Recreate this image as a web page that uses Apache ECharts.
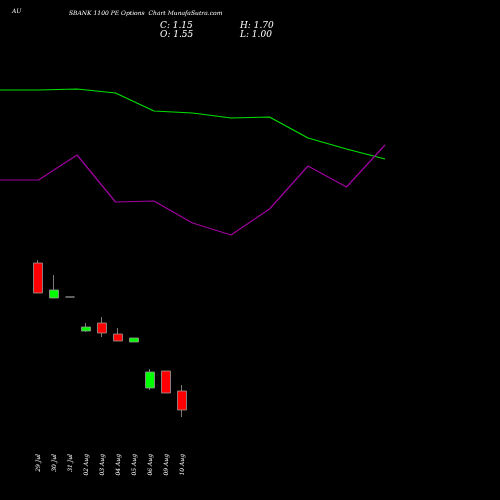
<!DOCTYPE html><html><head><meta charset="utf-8"><script src="https://cdn.jsdelivr.net/npm/echarts@6/dist/echarts.min.js"></script>
<style>body{margin:0;background:#000}#c{width:500px;height:500px}</style></head><body><div id="c"></div><script>
const categories=["29 Jul","30 Jul","31 Jul","02 Aug","03 Aug","04 Aug","05 Aug","06 Aug","09 Aug","10 Aug"];
const opens=[1.87,1.52,1.53,1.19,1.27,1.16,1.08,0.62,0.79,0.59];
const closes=[1.57,1.60,1.53,1.23,1.17,1.09,1.12,0.78,0.57,0.40];
const lows=[1.57,1.52,1.53,1.18,1.13,1.09,1.08,0.60,0.57,0.33];
const highs=[1.90,1.75,1.53,1.27,1.33,1.22,1.12,0.81,0.79,0.65];
const greenLine=[3.60,3.60,3.61,3.57,3.39,3.37,3.32,3.33,3.12,3.01,2.91];
const purpleLine=[2.70,2.70,2.95,2.48,2.49,2.27,2.15,2.41,2.84,2.63,3.05];
const lineX=[0,1,2,3,4,5,6,7,8,9,10];
const chart=echarts.init(document.getElementById('c'));
const candleData=categories.map((c,i)=>[opens[i],closes[i],lows[i],highs[i]]);
const font='"DejaVu Serif", serif';
chart.setOption({backgroundColor:'#000',animation:false,
graphic:[
{type:'text',left:12,top:8,style:{text:'AU',fill:'#fff',font:'italic 6px '+font}},
{type:'text',left:69,top:10,style:{text:'SBANK 1100 PE Options  Chart MunafaSutra.com',fill:'#fff',font:'italic 6px '+font}},
{type:'text',left:160,top:21,style:{text:'C: 1.15',fill:'#fff',font:'italic 9px '+font}},
{type:'text',left:160,top:30,style:{text:'O: 1.55',fill:'#fff',font:'italic 9px '+font}},
{type:'text',left:240,top:21,style:{text:'H: 1.70',fill:'#fff',font:'italic 9px '+font}},
{type:'text',left:240,top:30,style:{text:'L: 1.00',fill:'#fff',font:'italic 9px '+font}}],
grid:[{left:30,width:160,top:0,height:450},{left:0,width:385,top:0,height:450}],
xAxis:[{type:'category',gridIndex:0,data:categories,axisLine:{show:false},axisTick:{show:false},
 axisLabel:{rotate:90,color:'#fff',fontSize:6,fontStyle:'italic',fontFamily:font,margin:4,interval:0}},
 {type:'value',gridIndex:1,min:0,max:10,show:false}],
yAxis:[{type:'value',gridIndex:0,min:0,max:4.5,show:false,splitLine:{show:false}},
 {type:'value',gridIndex:1,min:0,max:4.5,show:false,splitLine:{show:false}}],
series:[
{type:'line',xAxisIndex:1,yAxisIndex:1,data:lineX.map((x,i)=>[x,greenLine[i]]),symbol:'none',lineStyle:{color:'#00e000',width:1.2}},
{type:'line',xAxisIndex:1,yAxisIndex:1,data:lineX.map((x,i)=>[x,purpleLine[i]]),symbol:'none',lineStyle:{color:'#a000a0',width:1.2}},
{type:'candlestick',xAxisIndex:0,yAxisIndex:0,data:candleData,barWidth:9,
 itemStyle:{color:'#00ff00',color0:'#ff0000',borderColor:'#999',borderColor0:'#999',borderWidth:0.8}}
]});
</script></body></html>
